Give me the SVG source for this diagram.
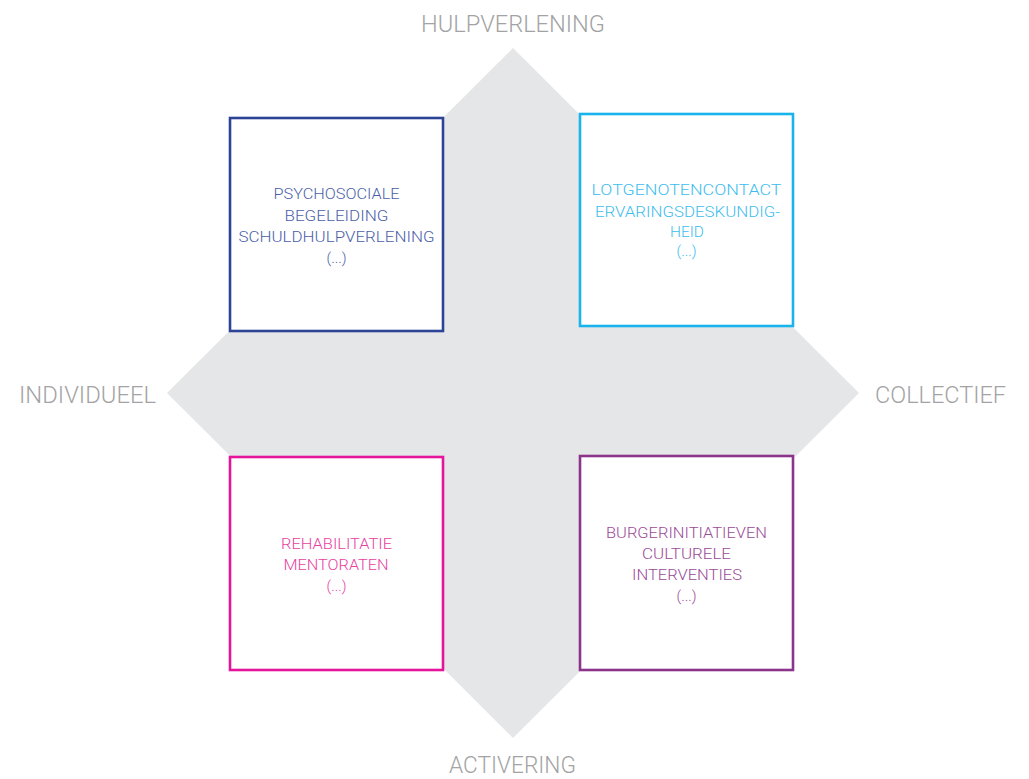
<svg xmlns="http://www.w3.org/2000/svg" width="1029" height="779" viewBox="0 0 1029 779">
<style>
.axis{font-family:Roboto,"Liberation Sans",sans-serif;font-weight:300;font-size:24px;fill:#a3a3a5}
.bt{font-family:Roboto,"Liberation Sans",sans-serif;font-weight:300;font-size:15.5px;text-anchor:middle}
.box{fill:#ffffff;stroke-width:2.6}
</style>
<rect width="1029" height="779" fill="#ffffff"/>
<g id="background">
<polygon points="513,48 859,393 513,738 167,393" fill="#e5e6e8"/>
</g>
<g id="connectors"></g>
<g id="axis-labels">
<text class="axis" x="421" y="32" textLength="184" lengthAdjust="spacingAndGlyphs">HULPVERLENING</text>
<text class="axis" x="449" y="773" textLength="127" lengthAdjust="spacingAndGlyphs">ACTIVERING</text>
<text class="axis" x="19" y="403" textLength="137" lengthAdjust="spacingAndGlyphs">INDIVIDUEEL</text>
<text class="axis" x="875" y="403" textLength="131" lengthAdjust="spacingAndGlyphs">COLLECTIEF</text>
</g>
<g id="node-hulpverlening-individueel">
<rect class="box" x="230" y="118" width="213" height="213" stroke="#2d4496"/>
<g class="bt" fill="#4b5fa9">
<text x="336.5" y="199" textLength="126" lengthAdjust="spacingAndGlyphs">PSYCHOSOCIALE</text>
<text x="336.5" y="221" textLength="104" lengthAdjust="spacingAndGlyphs">BEGELEIDING</text>
<text x="336.5" y="242" textLength="196" lengthAdjust="spacingAndGlyphs">SCHULDHULPVERLENING</text>
<text x="336.5" y="263" textLength="20" lengthAdjust="spacingAndGlyphs">(...)</text>
</g>
</g>
<g id="node-hulpverlening-collectief">
<rect class="box" x="580" y="114" width="213" height="212" stroke="#1ab4ec"/>
<g class="bt" fill="#3dbdee">
<text x="686.5" y="195" textLength="190" lengthAdjust="spacingAndGlyphs">LOTGENOTENCONTACT</text>
<text x="687.5" y="217" textLength="185" lengthAdjust="spacingAndGlyphs">ERVARINGSDESKUNDIG-</text>
<text x="687" y="237" textLength="34" lengthAdjust="spacingAndGlyphs">HEID</text>
<text x="686.5" y="256" textLength="20" lengthAdjust="spacingAndGlyphs">(...)</text>
</g>
</g>
<g id="node-activering-individueel">
<rect class="box" x="230" y="457" width="213" height="213" stroke="#e5159b"/>
<g class="bt" fill="#e8419f">
<text x="336.5" y="549" textLength="111" lengthAdjust="spacingAndGlyphs">REHABILITATIE</text>
<text x="336" y="570" textLength="105" lengthAdjust="spacingAndGlyphs">MENTORATEN</text>
<text x="336.5" y="591" textLength="20" lengthAdjust="spacingAndGlyphs">(...)</text>
</g>
</g>
<g id="node-activering-collectief">
<rect class="box" x="580" y="456" width="213" height="214" stroke="#8a3589"/>
<g class="bt" fill="#9b4b98">
<text x="686.5" y="538" textLength="161" lengthAdjust="spacingAndGlyphs">BURGERINITIATIEVEN</text>
<text x="686.5" y="559" textLength="89" lengthAdjust="spacingAndGlyphs">CULTURELE</text>
<text x="687" y="580" textLength="110" lengthAdjust="spacingAndGlyphs">INTERVENTIES</text>
<text x="686.5" y="601" textLength="20" lengthAdjust="spacingAndGlyphs">(...)</text>
</g>
</g>
</svg>
